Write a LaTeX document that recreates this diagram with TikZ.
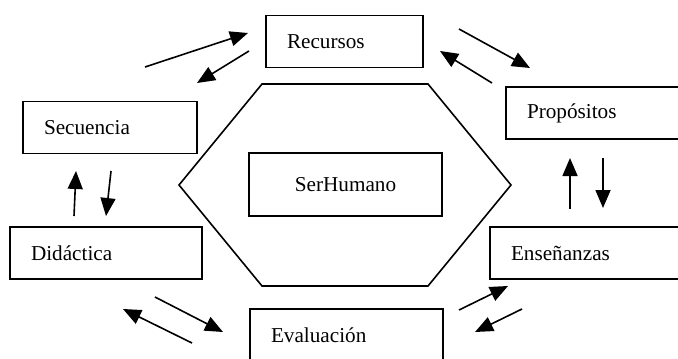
\documentclass[tikz,border=0pt]{standalone}
\usepackage{fontspec}
\setmainfont{Liberation Serif}
\usepackage{tikz}
\usetikzlibrary{arrows.meta}
\pgfdeclarelayer{edgelayer}
\pgfdeclarelayer{nodelayer}
\pgfsetlayers{edgelayer,nodelayer,main}
\tikzstyle{none}=[inner sep=0pt]
\tikzstyle{box}=[draw, rectangle, line width=0.8pt, minimum height=26pt, inner xsep=10.5pt, inner ysep=0pt, align=left, font=\fontsize{10.6}{12}\selectfont]
\tikzstyle{flecha}=[line width=0.8pt, -{Triangle[length=9pt,width=7.5pt]}]

\begin{document}
\begin{tikzpicture}[x=0.5pt, y=-0.5pt]
	\useasboundingbox (0, 0) rectangle (678, 358);
	\begin{pgfonlayer}{nodelayer}
		\clip (0, 0) rectangle (678, 358);
		\node [style=box, text width=57.5pt] (0) at (344.5, 41.5) {Recursos};
		\node [style=box, text width=66pt] (1) at (110, 127.5) {Secuencia};
		\node [style=box, text width=75pt] (2) at (106, 253) {Didáctica};
		\node [style=box, text width=79pt] (3) at (606, 113) {Propósitos};
		\node [style=box, text width=84pt] (4) at (595, 253) {Enseñanzas};
		\node [style=box, text width=75.5pt] (5) at (346.5, 335) {Evaluación};
		\node [style=box, align=center, inner xsep=0pt, minimum width=96.5pt, minimum height=31.5pt] (6) at (345.5, 184.5) {SerHumano};
		\node [style=none] (7) at (145, 67) {};
		\node [style=none] (8) at (248, 33) {};
		\node [style=none] (9) at (249, 51) {};
		\node [style=none] (10) at (197, 83) {};
		\node [style=none] (11) at (459, 29) {};
		\node [style=none] (12) at (530, 68) {};
		\node [style=none] (13) at (492, 83) {};
		\node [style=none] (14) at (440, 51) {};
		\node [style=none] (15) at (74, 216) {};
		\node [style=none] (16) at (76, 171) {};
		\node [style=none] (17) at (111, 171) {};
		\node [style=none] (18) at (106, 216) {};
		\node [style=none] (19) at (570, 209) {};
		\node [style=none] (20) at (570, 158) {};
		\node [style=none] (21) at (603, 158) {};
		\node [style=none] (22) at (603, 208) {};
		\node [style=none] (23) at (155, 297) {};
		\node [style=none] (24) at (223, 332) {};
		\node [style=none] (25) at (192, 343) {};
		\node [style=none] (26) at (123, 309) {};
		\node [style=none] (27) at (459, 310) {};
		\node [style=none] (28) at (508, 286) {};
		\node [style=none] (29) at (522, 309) {};
		\node [style=none] (30) at (475, 332) {};
	\end{pgfonlayer}
	\begin{pgfonlayer}{edgelayer}
		\draw [line width=0.8pt] (262, 84) -- (428, 84) -- (511, 185) -- (428, 286) -- (262, 286) -- (179, 185) -- cycle;
		\draw [style=flecha] (7.center) to (8.center);
		\draw [style=flecha] (9.center) to (10.center);
		\draw [style=flecha] (11.center) to (12.center);
		\draw [style=flecha] (13.center) to (14.center);
		\draw [style=flecha] (15.center) to (16.center);
		\draw [style=flecha] (17.center) to (18.center);
		\draw [style=flecha] (19.center) to (20.center);
		\draw [style=flecha] (21.center) to (22.center);
		\draw [style=flecha] (23.center) to (24.center);
		\draw [style=flecha] (25.center) to (26.center);
		\draw [style=flecha] (27.center) to (28.center);
		\draw [style=flecha] (29.center) to (30.center);
	\end{pgfonlayer}
\end{tikzpicture}
\end{document}
